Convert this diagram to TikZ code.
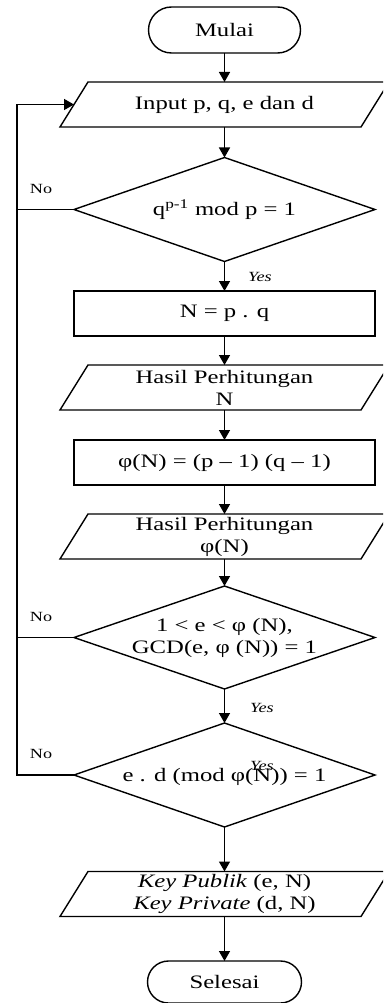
\documentclass[tikz,border=0pt]{standalone}
\usepackage{fontspec}
\setmainfont{Liberation Serif}[FakeStretch=1.3]
\usetikzlibrary{shapes.geometric,arrows.meta,calc}
% outline of an input/output parallelogram around a rectangular node
\newcommand\drawio[1]{%
  \draw ($(#1.north west)+(14,0)$) -- ($(#1.north east)+(14,0)$)
     -- ($(#1.south east)+(-14,0)$) -- ($(#1.south west)+(-14,0)$) -- cycle;}
\begin{document}
\begin{tikzpicture}[x=1pt,y=-1pt,
  line width=1.4pt,
  base/.style={inner sep=0pt, outer sep=0pt, align=center,
    font=\fontsize{19}{22}\selectfont},
  terminal/.style={base, draw, rounded corners=23pt,
    minimum width=152pt, minimum height=46pt},
  process/.style={base, draw, minimum width=301pt, minimum height=45pt},
  io/.style={base, minimum width=301pt, minimum height=45pt},
  decision/.style={draw, diamond, inner sep=0pt, outer sep=0pt,
    minimum width=301pt, minimum height=104pt},
  flow/.style={-{Triangle[width=11pt,length=10pt]}},
  note/.style={inner sep=0pt, font=\fontsize{14}{16}\selectfont},
  ]
\useasboundingbox (0,0) rectangle (383,1003);
\clip (0,0) rectangle (383,1003);

% shapes
\node[terminal] (start) at (224.5,30) {Mulai};
\node[io] (in) at (224.5,104.5) {Input p, q, e dan d};
\drawio{in}
\node[decision] (d1) at (224.5,209.5) {};
\node[base] (d1t) at (224.5,209.5) {q\textsuperscript{p-1} mod p = 1};
\node[process] (np) at (224.5,313.5) {N = p . q};
\node[io] (hn) at (224.5,387.5) {Hasil Perhitungan\\N};
\drawio{hn}
\node[process] (phi) at (224.5,462.5) {φ(N) = (p – 1) (q – 1)};
\node[io] (hphi) at (224.5,536.5) {Hasil Perhitungan\\φ(N)};
\drawio{hphi}
\node[decision, minimum height=103pt] (d2) at (224.5,637.5) {};
\node[base] (d2t) at (224.5,638) {1 < e < φ (N),\\GCD(e, φ (N)) = 1};
\node[decision] (d3) at (224.5,775) {};
\node[base] (d3t) at (224.5,777) {e . d (mod φ(N)) = 1};
\node[io] (key) at (224.5,894) {\textit{Key Publik} (e, N)\\\textit{Key Private} (d, N)};
\drawio{key}
\node[terminal, rounded corners=21pt, minimum width=154pt, minimum height=42pt]
  (end) at (224.5,982) {Selesai};

% main flow
\draw[flow] (start) -- (in);
\draw[flow] (in) -- (d1);
\draw[flow] (d1) -- (np);
\draw[flow] (np) -- (hn);
\draw[flow] (hn) -- (phi);
\draw[flow] (phi) -- (hphi);
\draw[flow] (hphi) -- (d2);
\draw[flow] (d2) -- (d3);
\draw[flow] (d3) -- (key);
\draw[flow] (key) -- (end);

% return branch
\coordinate (loop) at (17,104.5);
\draw[flow] (d3.west) -| (loop) -- (in.west);
\draw (d1.west) -- (d1.west -| loop);
\draw (d2.west) -- (d2.west -| loop);

% branch labels
\node[note] (no1) at (41,189) {No};
\node[note] (no2) at (41,617) {No};
\node[note] (no3) at (41,754) {No};
\node[note] (yes1) at (260,277) {\textit{Yes}};
\node[note] (yes2) at (262,708) {\textit{Yes}};
\node[note] (yes3) at (262,766) {\textit{Yes}};
\end{tikzpicture}
\end{document}
